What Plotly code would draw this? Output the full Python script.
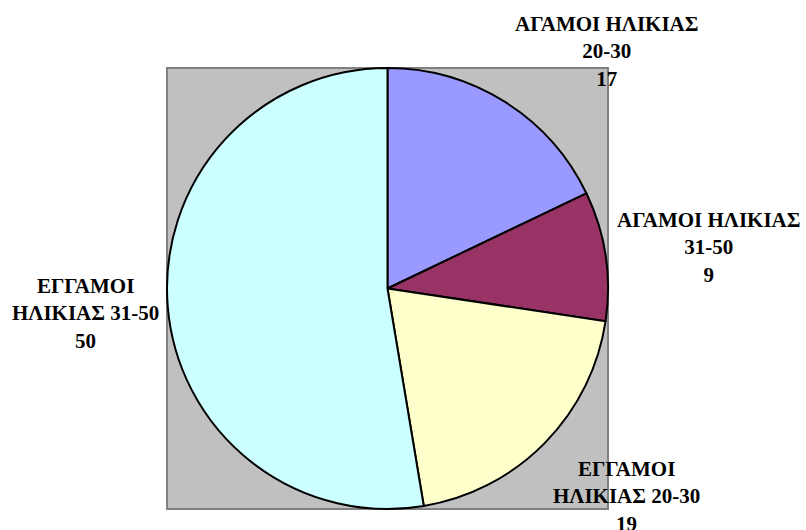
import plotly.graph_objects as go

# Marital status / age group breakdown
categories = ["ΑΓΑΜΟΙ ΗΛΙΚΙΑΣ<br>20-30", "ΑΓΑΜΟΙ ΗΛΙΚΙΑΣ<br>31-50",
              "ΕΓΓΑΜΟΙ<br>ΗΛΙΚΙΑΣ 20-30", "ΕΓΓΑΜΟΙ<br>ΗΛΙΚΙΑΣ 31-50"]
values = [17, 9, 19, 50]
colors = ["#9999FF", "#993366", "#FFFFCC", "#CCFFFF"]

W, H = 806, 530
# plot-area square (pixels)
box_x0, box_x1, box_y0, box_y1 = 167, 608, 68, 509
# label centres (pixels)
label_pos = [(606, 52), (708, 247), (626, 496), (85, 313)]

fig = go.Figure()
fig.add_trace(go.Pie(
    labels=categories,
    values=values,
    sort=False,
    direction="clockwise",
    rotation=0,
    marker=dict(colors=colors, line=dict(color="black", width=2)),
    textinfo="none",
    hoverinfo="label+value",
    showlegend=False,
    domain=dict(x=[box_x0 / W, box_x1 / W], y=[1 - box_y1 / H, 1 - box_y0 / H]),
))

fig.add_shape(type="rect", xref="paper", yref="paper",
              x0=box_x0 / W, x1=box_x1 / W, y0=1 - box_y1 / H, y1=1 - box_y0 / H,
              fillcolor="#C0C0C0", line=dict(color="#808080", width=2), layer="below")

for cat, val, (px, py) in zip(categories, values, label_pos):
    fig.add_annotation(
        x=px / W, y=1 - py / H, xref="paper", yref="paper",
        text=f"<b>{cat}<br>{val}</b>", showarrow=False,
        xanchor="center", yanchor="middle", align="center",
        font=dict(family="Liberation Serif, Noto Sans", size=21, color="black"),
    )

fig.update_layout(
    width=W, height=H,
    margin=dict(l=0, r=0, t=0, b=0),
    paper_bgcolor="white", plot_bgcolor="white",
)

fig.write_html("out.html")
